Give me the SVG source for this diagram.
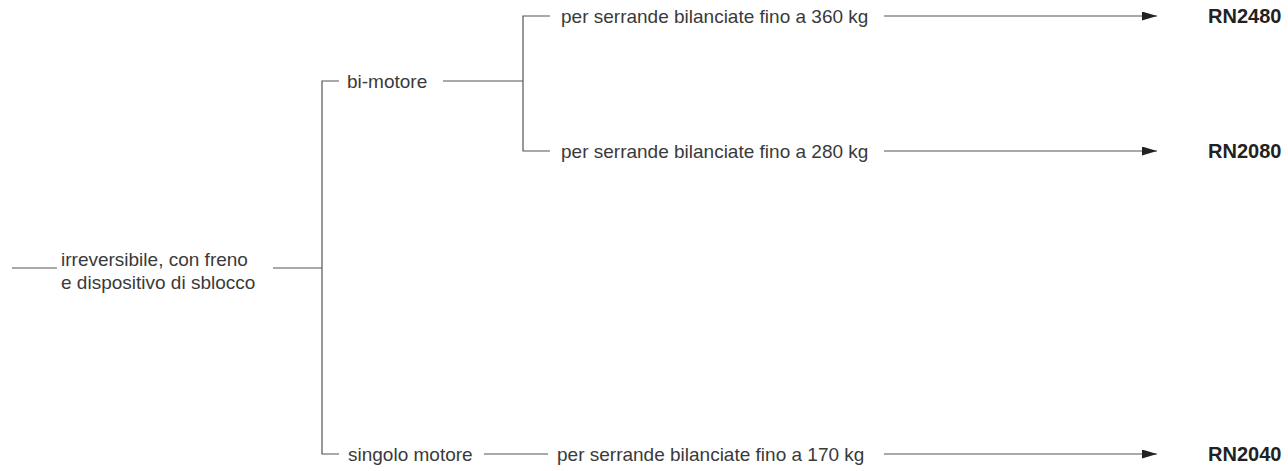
<svg xmlns="http://www.w3.org/2000/svg" width="1288" height="471" viewBox="0 0 1288 471">
<style>
text{font-family:"Liberation Sans",Arial,sans-serif;font-size:19px;fill:#3a3a3a}
.b{font-weight:bold;font-size:20px;fill:#222}
.l{stroke:#555;stroke-width:1.2;fill:none}
</style>
<defs><marker id="a" markerWidth="15" markerHeight="9" refX="15" refY="4.5" orient="auto" markerUnits="userSpaceOnUse"><path d="M0,0L15,4.5L0,9z" fill="#222"/></marker></defs>
<g id="connectors">
<path class="l" d="M12,268H57"/>
<path class="l" d="M273,268H322"/>
<path class="l" d="M339,81H322V454H339"/>
<path class="l" d="M443,81H523"/>
<path class="l" d="M550,16H523V151H550"/>
<path class="l" d="M484,454H548"/>
<path class="l" d="M884,16H1157" marker-end="url(#a)"/>
<path class="l" d="M884,151H1157" marker-end="url(#a)"/>
<path class="l" d="M884,454H1157" marker-end="url(#a)"/>
</g>
<g id="root"><text x="61" y="266">irreversibile, con freno</text><text x="61" y="289">e dispositivo di sblocco</text></g>
<g id="bimotore"><text x="347" y="88">bi-motore</text></g>
<g id="singolo"><text x="348" y="461">singolo motore</text></g>
<g id="p360"><text x="561" y="23">per serrande bilanciate fino a 360 kg</text></g>
<g id="p280"><text x="561" y="158">per serrande bilanciate fino a 280 kg</text></g>
<g id="p170"><text x="557" y="461">per serrande bilanciate fino a 170 kg</text></g>
<g id="rn2480"><text class="b" x="1208" y="23">RN2480</text></g>
<g id="rn2080"><text class="b" x="1208" y="158">RN2080</text></g>
<g id="rn2040"><text class="b" x="1208" y="461">RN2040</text></g>
</svg>
